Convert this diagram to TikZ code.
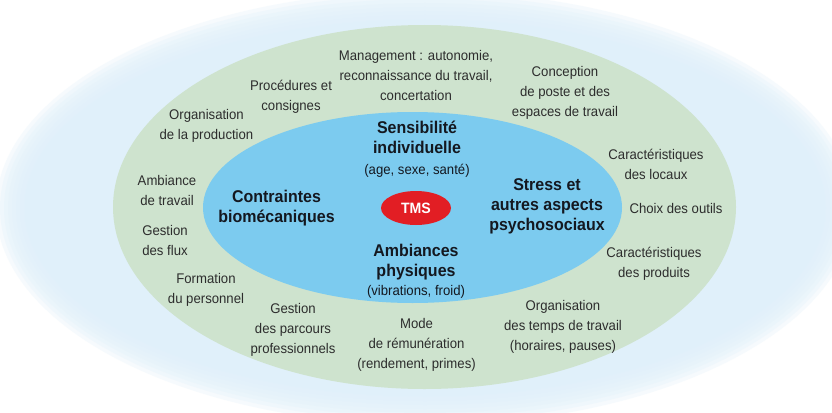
\documentclass[tikz,border=0pt]{standalone}
\usepackage{fontspec}
\setmainfont{Liberation Sans}[FakeStretch=0.94]
\usetikzlibrary{shapes.geometric}
\definecolor{glowblue}{RGB}{224,240,250}
\definecolor{ringgreen}{RGB}{206,227,206}
\definecolor{coreblue}{RGB}{124,203,239}
\definecolor{tmsred}{RGB}{226,30,36}
\definecolor{txtgrey}{RGB}{45,45,45}
\definecolor{txtdark}{RGB}{20,24,32}
\begin{document}
\begin{tikzpicture}[x=1pt,y=-1pt,
  outertxt/.style={align=center, inner sep=0pt, text=txtgrey, font=\fontsize{14}{20}\selectfont},
  innertxt/.style={align=center, inner sep=0pt, text=txtdark, font=\fontsize{17}{20}\selectfont\bfseries},
  ring/.style={ellipse, inner sep=0pt, draw=none}]
\useasboundingbox (0,0) rectangle (832,412);
\fill[white] (0,0) rectangle (832,412);
% soft glow behind the ring
\foreach \d in {14,10,6,2,-2,-6,-10,-14}
  \fill[glowblue, fill opacity=0.28] (425,208) ellipse [x radius={(415+\d)*1pt}, y radius={(203+\d)*1pt}];
\fill[glowblue] (425,208) ellipse [x radius=400pt, y radius=188pt];
% rings
\node[ring, fill=ringgreen, minimum width=623pt, minimum height=364pt] (outer) at (424.5,207) {};
\node[ring, fill=coreblue, minimum width=419pt, minimum height=191pt] (core) at (412.5,207.5) {};
\node[ring, fill=tmsred, minimum width=70pt, minimum height=34pt, text=white,
      font=\fontsize{15}{15}\selectfont\bfseries] (tms) at (416,208) {TMS};
% inner labels
\node[innertxt] (sensib) at (417,149) {Sensibilité\\individuelle\\[1pt]\mdseries\fontsize{14}{20}\selectfont(age, sexe, santé)};
\node[innertxt] (contr) at (276.5,208.5) {Contraintes\\biomécaniques};
\node[innertxt] (stress) at (547,206) {Stress et\\autres aspects\\psychosociaux};
\node[innertxt] (ambph) at (416,271.5) {Ambiances\\physiques\\[-1pt]\mdseries\fontsize{14}{20}\selectfont(vibrations, froid)};
% outer labels
\node[outertxt] (mgmt) at (416,75) {Management : autonomie,\\reconnaissance du travail,\\concertation};
\node[outertxt] (proc) at (291,96.5) {Procédures et\\consignes};
\node[outertxt] (orgprod) at (206.5,126) {Organisation\\de la production};
\node[outertxt] (ambtrav) at (167,190.5) {Ambiance\\de travail};
\node[outertxt] (flux) at (165,240) {Gestion\\des flux};
\node[outertxt] (form) at (206,289.5) {Formation\\du personnel};
\node[outertxt] (parc) at (293,329.5) {Gestion\\des parcours\\professionnels};
\node[outertxt] (mode) at (416.5,344.5) {Mode\\de rémunération\\(rendement, primes)};
\node[outertxt] (orgtemps) at (563,326.5) {Organisation\\des temps de travail\\(horaires, pauses)};
\node[outertxt] (carprod) at (654,264) {Caractéristiques\\des produits};
\node[outertxt] (choix) at (676,208) {Choix des outils};
\node[outertxt] (carloc) at (656,164) {Caractéristiques\\des locaux};
\node[outertxt] (concep) at (565,92.5) {Conception\\de poste et des\\espaces de travail};
\end{tikzpicture}
\end{document}
